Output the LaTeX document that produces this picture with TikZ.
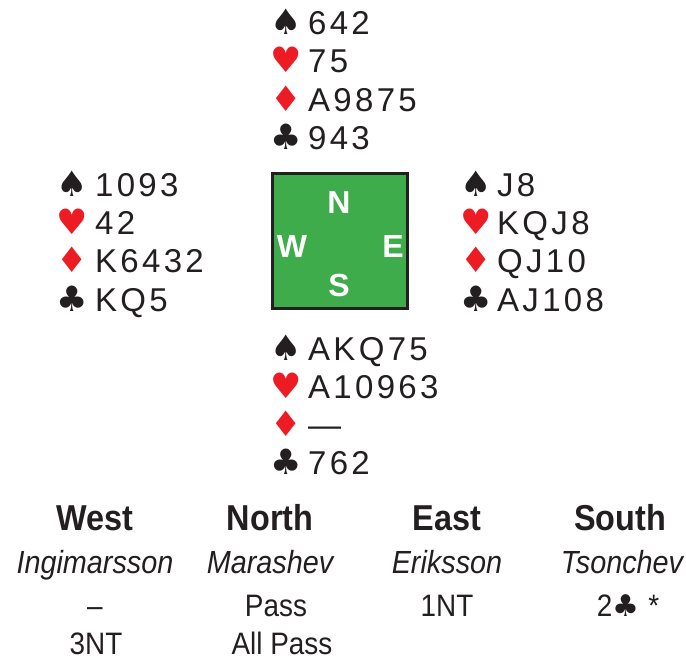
\documentclass[tikz,border=0pt]{standalone}
\usepackage{fontspec}
\setmainfont{Liberation Sans}
\newfontfamily\handfont[LetterSpace=10]{Liberation Sans}
\newfontfamily\suitfont{DejaVu Sans}
\newfontfamily\hdrfont[FakeStretch=0.9]{Liberation Sans}
\definecolor{suitred}{RGB}{237,28,36}
\definecolor{suitblack}{RGB}{35,31,32}
\definecolor{boxgreen}{RGB}{62,172,74}
\tikzset{
  handtxt/.style={anchor=base west, inner sep=0pt, font=\handfont\fontsize{33}{33}\selectfont, text=suitblack},
  suitsym/.style={anchor=base, inner sep=0pt, font=\suitfont\fontsize{35}{35}\selectfont},
  redsuit/.style={suitsym, text=suitred},
  blacksuit/.style={suitsym, text=suitblack},
  compass/.style={inner sep=0pt, font=\bfseries\fontsize{32}{32}\selectfont, text=white},
  hdr/.style={anchor=base, inner sep=0pt, font=\hdrfont\bfseries\fontsize{36}{36}\selectfont, text=suitblack},
  pname/.style={anchor=base, inner sep=0pt, font=\hdrfont\itshape\fontsize{32}{32}\selectfont, text=suitblack},
  bid/.style={anchor=base, inner sep=0pt, font=\hdrfont\fontsize{31}{31}\selectfont, text=suitblack},
}
\begin{document}
\begin{tikzpicture}[x=1pt,y=-1pt]
\useasboundingbox[fill=white] (0,0) rectangle (686,661);
% compass box
\node[draw=suitblack, line width=3pt, fill=boxgreen, minimum width=135pt, minimum height=135pt, inner sep=0pt] (box) at (339.5,241) {};
\node[compass] (cN) at (339,202) {N};
\node[compass] (cW) at (292,246) {W};
\node[compass] (cE) at (393,246) {E};
\node[compass] (cS) at (339,285) {S};
% North
\node[blacksuit] (nSs) at (286,34.5) {♠};
\node[handtxt] (nS) at (308,34.5) {642};
\node[redsuit] (nHs) at (286,72.5) {♥};
\node[handtxt] (nH) at (308,72.5) {75};
\node[redsuit] (nDs) at (286,111) {♦};
\node[handtxt] (nD) at (308,111) {A9875};
\node[blacksuit] (nCs) at (286,149.5) {♣};
\node[handtxt] (nC) at (308,149.5) {943};
% West
\node[blacksuit] (wSs) at (72,196) {♠};
\node[handtxt] (wS) at (95,196) {1093};
\node[redsuit] (wHs) at (72,234) {♥};
\node[handtxt] (wH) at (95,234) {42};
\node[redsuit] (wDs) at (72,272.5) {♦};
\node[handtxt] (wD) at (95,272.5) {K6432};
\node[blacksuit] (wCs) at (72,311) {♣};
\node[handtxt] (wC) at (95,311) {KQ5};
% East
\node[blacksuit] (eSs) at (476,196) {♠};
\node[handtxt] (eS) at (497,196) {J8};
\node[redsuit] (eHs) at (476,234) {♥};
\node[handtxt] (eH) at (497,234) {KQJ8};
\node[redsuit] (eDs) at (476,272.5) {♦};
\node[handtxt] (eD) at (497,272.5) {QJ10};
\node[blacksuit] (eCs) at (476,311) {♣};
\node[handtxt] (eC) at (497,311) {AJ108};
% South
\node[blacksuit] (sSs) at (286,360.5) {♠};
\node[handtxt] (sS) at (308,360.5) {AKQ75};
\node[redsuit] (sHs) at (286,398) {♥};
\node[handtxt] (sH) at (308,398) {A10963};
\node[redsuit] (sDs) at (286,436) {♦};
\node[handtxt] (sD) at (308,436) {—};
\node[blacksuit] (sCs) at (286,474) {♣};
\node[handtxt] (sC) at (308,474) {762};
% auction
\node[hdr] (hW) at (95,530) {West};
\node[hdr] (hN) at (270,530) {North};
\node[hdr] (hE) at (447,530) {East};
\node[hdr] (hS) at (620,530) {South};
\node[pname] (pW) at (95,573) {Ingimarsson};
\node[pname] (pN) at (270,573) {Marashev};
\node[pname] (pE) at (447,573) {Eriksson};
\node[pname] (pS) at (622,573) {Tsonchev};
\node[bid] (b1) at (95,616) {–};
\node[bid] (b2) at (276,616) {Pass};
\node[bid] (b3) at (447,616) {1NT};
\node[bid] (b4) at (628,616) {2{\suitfont\fontsize{30}{30}\selectfont ♣}\hspace{9pt}*};
\node[bid] (b5) at (96,654) {3NT};
\node[bid] (b6) at (282,654) {All Pass};
\end{tikzpicture}
\end{document}
